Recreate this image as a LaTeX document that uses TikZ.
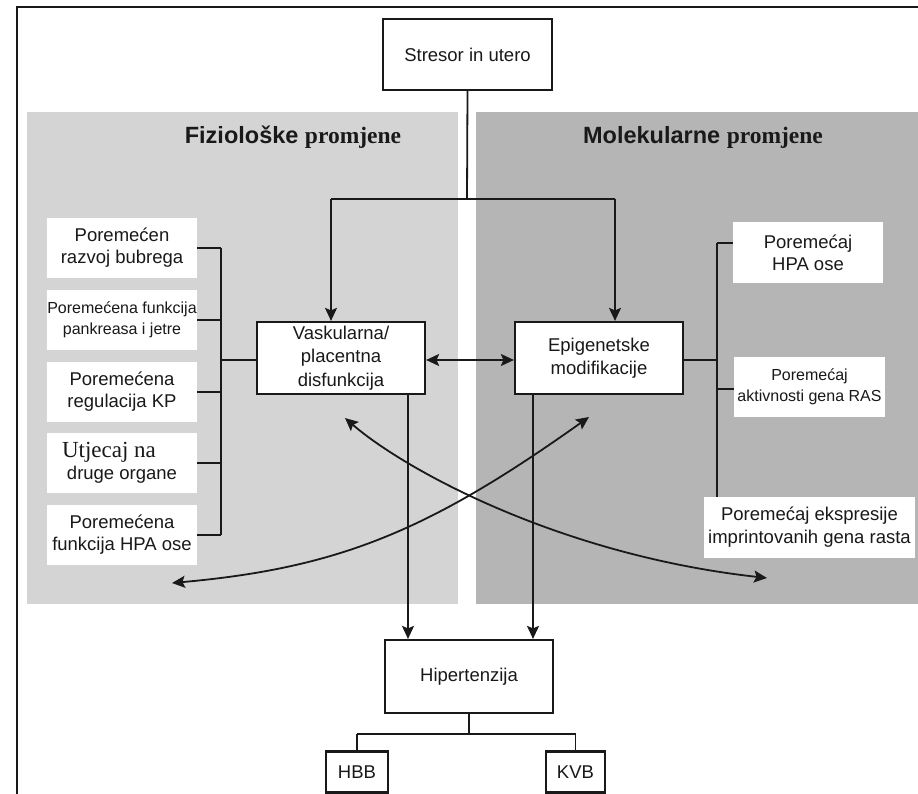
\documentclass[tikz,border=0pt]{standalone}
\usepackage{fontspec}
\setmainfont{Liberation Sans}
\newfontfamily\tnr{Liberation Serif}
\usetikzlibrary{arrows.meta}
\definecolor{lgray}{RGB}{212,212,212}
\definecolor{dgray}{RGB}{181,181,181}
\definecolor{ink}{RGB}{25,25,25}
\begin{document}
\begin{tikzpicture}[x=1pt,y=-1pt,
  conn/.style={line width=1.8pt, draw=ink},
  tip/.tip={Stealth[length=13pt,width=12pt,inset=2.5pt]},
  arr/.style={conn, -tip},
  darr/.style={conn, tip-tip},
  fbox/.style={draw=ink, line width=2.2pt, fill=white, inner sep=0pt, align=center, text=ink, font=\fontsize{18.5}{23.5}\selectfont},
  wbox/.style={fill=white, inner sep=0pt, align=center, text=ink, minimum width=150pt, minimum height=60pt, font=\fontsize{18.5}{22}\selectfont},
  small/.style={font=\fontsize{16}{21}\selectfont},
  ttl/.style={text=ink, font=\fontsize{23.5}{28}\selectfont\bfseries}]
\useasboundingbox (0,0) rectangle (918,794);
\fill[white] (0,0) rectangle (918,794);
\draw[line width=2pt, ink] (17,794) -- (17,7) -- (918,7);
\fill[lgray] (27,112) rectangle (458,604);
\fill[dgray] (476,112) rectangle (918,604);

% titles
\node[ttl] (tleft) at (293,137) {Fiziološke {\tnr promjene}};
\node[ttl] (tright) at (703,137) {Molekularne {\tnr promjene}};

% main boxes
\node[fbox, minimum width=169pt, minimum height=71pt] (str) at (467.5,54.5) {Stresor in utero};
\node[fbox, minimum width=168pt, minimum height=72pt] (vask) at (341,358) {Vaskularna/\\placentna\\disfunkcija};
\node[fbox, minimum width=168pt, minimum height=72pt] (epi) at (599,358) {Epigenetske\\modifikacije};
\node[fbox, minimum width=168pt, minimum height=73pt] (hip) at (469,676.5) {Hipertenzija};
\node[fbox, minimum width=62pt, minimum height=41pt] (hbb) at (357,772) {HBB};
\node[fbox, minimum width=59pt, minimum height=41pt] (kvb) at (575.5,772) {KVB};

% left boxes
\node[wbox] (l1) at (122,248) {Poremećen\\razvoj bubrega};
\node[wbox, small] (l2) at (122,320) {Poremećena funkcija\\pankreasa i jetre};
\node[wbox] (l3) at (122,392) {Poremećena\\regulacija KP};
\node[wbox] (l4) at (122,463) {{\tnr\fontsize{23}{23}\selectfont Utjecaj na}\hspace*{26pt}\\druge organe};
\node[wbox] (l5) at (122,535) {Poremećena\\funkcija HPA ose};

% right boxes
\node[wbox, minimum height=61pt] (r1) at (808,252.5) {Poremećaj\\HPA ose};
\node[wbox, small, minimum width=151pt] (r2) at (809.5,387) {Poremećaj\\aktivnosti gena RAS};
\node[wbox, minimum width=211pt, minimum height=61pt, font=\fontsize{18.5}{23}\selectfont] (r3) at (809.5,527.5) {Poremećaj ekspresije\\imprintovanih gena rasta};

% coordinates
\coordinate (sj) at (467,199);
\coordinate (lj) at (331,199);
\coordinate (rj) at (615,199);
\coordinate (lb1) at (221,248);
\coordinate (lb5) at (221,535);
\coordinate (lbm) at (221,360);
\coordinate (rb1) at (717,243);
\coordinate (rbm) at (717,360);
\coordinate (rb2) at (717,389);
\coordinate (hj) at (469,734);
\coordinate (hl) at (357,734);
\coordinate (hr) at (575.5,734);

% top distribution
\draw[conn] (str.south) -- (sj);
\draw[conn] (lj) -- (rj);
\draw[arr] (lj) -- (vask.north -| lj);
\draw[arr] (rj) -- (epi.north -| rj);
\draw[darr] ([yshift=-2pt]vask.east) -- ([yshift=-2pt]epi.west);

% left bracket
\draw[conn] (lb1) -- (lb5);
\foreach \b in {l1,l2,l3,l4,l5}{\draw[conn] (\b.east) -- (\b.east -| lb1);}
\draw[conn] (lbm) -- (lbm -| vask.west);

% right bracket
\draw[conn] (rb1) -- (r3.north -| rb1);
\draw[conn] (rbm -| epi.east) -- (rbm);
\draw[conn] (rb1) -- (rb1 -| r1.west);
\draw[conn] (rb2) -- (rb2 -| r2.west);

% down to hypertension
\draw[arr] (vask.south -| 408,0) -- (hip.north -| 408,0);
\draw[arr] (epi.south -| 533,0) -- (hip.north -| 533,0);

% hypertension branches
\draw[conn] (hip.south) -- (hj);
\draw[conn] (hl) -- (hr);
\draw[conn] (hl) -- (hbb.north);
\draw[conn] (hr) -- (kvb.north);

% crossing curves
\coordinate (ca1) at (172,583);
\coordinate (ca2) at (589,417);
\coordinate (cb1) at (345,418);
\coordinate (cb2) at (767,578);
\draw[darr] (ca1) .. controls (340,568) and (430,530) .. (ca2);
\draw[darr] (cb1) .. controls (405,470) and (560,555) .. (cb2);
\end{tikzpicture}
\end{document}
